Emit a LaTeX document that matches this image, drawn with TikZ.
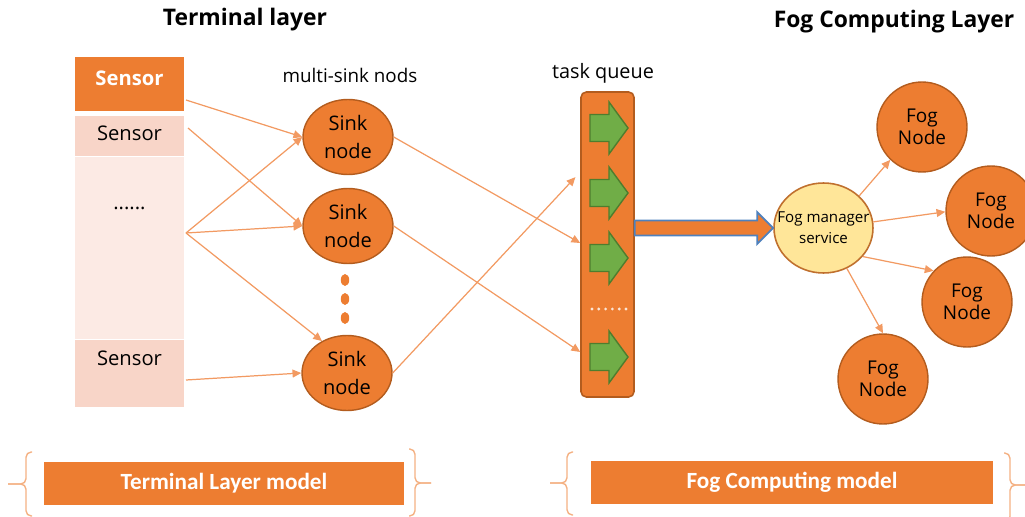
\documentclass[tikz,border=0pt]{standalone}
\usepackage{fontspec}
\setmainfont{Open Sans}
\newfontfamily\modelfont{Carlito}
\usetikzlibrary{arrows.meta,positioning,calc,shapes.geometric}

\definecolor{fogorange}{HTML}{ED7D31}
\definecolor{fogedge}{HTML}{B35C1E}
\definecolor{linkorange}{HTML}{F29A62}
\definecolor{bandA}{HTML}{F8D5C8}
\definecolor{bandB}{HTML}{FCEAE4}
\definecolor{mgrfill}{HTML}{FFE699}
\definecolor{mgredge}{HTML}{C0702E}
\definecolor{taskgreen}{HTML}{70AD47}
\definecolor{taskedge}{HTML}{4E7D2E}
\definecolor{flowblue}{HTML}{4F81BD}
\definecolor{bracecol}{HTML}{F4B183}

\tikzset{
  sensorbox/.style={rectangle, minimum width=2.18cm, inner sep=0pt},
  sensortext/.style={font=\fontsize{11.5}{13}\selectfont},
  sinknode/.style={ellipse, draw=fogedge, fill=fogorange, line width=0.8pt,
    minimum width=1.8cm, minimum height=1.5cm, inner sep=0pt, align=center,
    font=\fontsize{11.4}{16}\selectfont},
  fognode/.style={circle, draw=fogedge, fill=fogorange, line width=0.8pt,
    minimum size=1.8cm, inner sep=0pt, align=center,
    font=\fontsize{10.8}{12.5}\selectfont},
  link/.style={draw=linkorange, line width=0.7pt, -{Triangle[length=5pt,width=4.5pt]}},
  modelbox/.style={rectangle, fill=fogorange, text=white, minimum height=0.86cm,
    font=\modelfont\bfseries\fontsize{13.2}{15}\selectfont},
  curly/.style={draw=bracecol, line width=0.8pt, rounded corners=3pt},
  title/.style={font=\bfseries\fontsize{13}{15}\selectfont}
}

\begin{document}
\begin{tikzpicture}[x=0.02cm, y=-0.02cm]
  \useasboundingbox (0,0) rectangle (1025,517);

  % headings
  \node[title] (tlayer) at (245,20) {Terminal layer};
  \node[title] (flayer) at (894,22) {Fog Computing Layer};

  % sensor column
  \node[sensorbox, fill=fogorange, minimum height=1.08cm] (s1) at (129.5,84) {};
  \node[sensorbox, fill=bandA, minimum height=0.8cm] (s2) at (129.5,136) {};
  \node[sensorbox, fill=bandB, minimum height=3.64cm] (s3) at (129.5,248) {};
  \node[sensorbox, fill=bandA, minimum height=1.34cm] (s4) at (129.5,373.5) {};
  \node[text=white, font=\bfseries\fontsize{11.5}{13}\selectfont] (s1t) at (129.5,78) {Sensor};
  \node[sensortext] (s2t) at (129.5,133) {Sensor};
  \node[sensortext] (s3t) at (129.5,208) {......};
  \node[sensortext] (s4t) at (129.5,358) {Sensor};

  \coordinate (o1) at (186,100);
  \coordinate (o2) at (188,128);
  \coordinate (o3) at (186,233);
  \coordinate (o4) at (186,380);

  % sink nodes
  \node[font=\fontsize{10.7}{13}\selectfont] (multi) at (350,75) {multi-sink nods};
  \node[sinknode] (k1) at (348,137) {Sink\\node};
  \node[sinknode] (k2) at (348,226) {Sink\\node};
  \node[sinknode] (k3) at (347,373) {Sink\\node};
  \foreach \y in {280,299,318}
    \fill[fogorange] (345,\y) ellipse (2.4pt and 3.4pt);

  \draw[link] (o1) -- (k1.west);
  \draw[link] (o2) -- (k2.west);
  \draw[link] (o3) -- (k1.west);
  \draw[link] (o3) -- (k2.west);
  \draw[link] (o3) -- (k3.128);
  \draw[link] (o4) -- (k3.west);

  % task queue
  \node[font=\fontsize{11.3}{13}\selectfont] (tq) at (603,73) {task queue};
  \node[rectangle, rounded corners=3pt, draw=fogedge, fill=fogorange, line width=0.9pt,
    minimum width=1.06cm, minimum height=6.1cm] (q) at (607.5,244.5) {};
  \foreach \y in {128,193,258,357}
    \draw[fill=taskgreen, draw=taskedge, line width=0.8pt]
      (590,{\y-13.5}) -- (609,{\y-13.5}) -- (609,{\y-26}) -- (628,\y)
      -- (609,{\y+26}) -- (609,{\y+13.5}) -- (590,{\y+13.5}) -- cycle;
  \foreach \i in {0,...,5}
    \fill[white!80!fogorange] ({592+6.8*\i},309) circle (0.9pt);

  \draw[link] (k1.east) -- (q.west |- 0,243);
  \draw[link] (k2.east) -- (q.west |- 0,352);
  \draw[link, shorten >=4pt] (k3.east) -- (q.west |- 0,172);

  % fog manager and fog nodes
  \node[ellipse, draw=mgredge, fill=mgrfill, line width=0.9pt, minimum width=1.98cm,
    minimum height=1.8cm, inner xsep=-7pt, inner ysep=0pt, align=center,
    font=\fontsize{8.6}{12}\selectfont] (m) at (823.5,228) {Fog manager\\service};
  \node[fognode] (f1) at (922,127) {Fog\\Node};
  \node[fognode] (f2) at (991,211) {Fog\\Node};
  \node[fognode] (f3) at (967,302) {Fog\\Node};
  \node[fognode] (f4) at (883,379) {Fog\\Node};

  \draw[fill=fogorange, draw=flowblue, line width=1pt, line join=miter]
    ($(q.east |- m.west)+(0,-7.5)$) -- ($(m.west)+(-16,-7.5)$) -- ($(m.west)+(-16,-16)$)
    -- (m.west) -- ($(m.west)+(-16,16)$) -- ($(m.west)+(-16,7.5)$)
    -- ($(q.east |- m.west)+(0,7.5)$) -- cycle;

  \draw[link] (m.42) -- (f1.226);
  \draw[link] (m.7) -- (f2.181);
  \draw[link] (m.-36) -- (f3.137);
  \draw[link] (m.-60) -- (f4.90);

  % model bars with braces
  \node[modelbox, minimum width=7.2cm] (tmodel) at (224,483.5) {Terminal Layer model};
  \node[modelbox, minimum width=8.04cm] (fmodel) at (792,482.5) {Fog Computing model};

  \draw[curly] (32,452) -- (26,452) -- (26,484) -- (8,484);
  \draw[curly] (32,516) -- (26,516) -- (26,484) -- (8,484);
  \draw[curly] (409,449) -- (415,449) -- (415,483) -- (431,483);
  \draw[curly] (409,516) -- (415,516) -- (415,483) -- (431,483);
  \draw[curly] (573,452) -- (567,452) -- (567,483) -- (550,483);
  \draw[curly] (573,515) -- (567,515) -- (567,483) -- (550,483);
  \draw[curly] (1004,453) -- (1010,453) -- (1010,485) -- (1026,485);
  \draw[curly] (1004,522) -- (1010,522) -- (1010,485) -- (1026,485);
\end{tikzpicture}
\end{document}
